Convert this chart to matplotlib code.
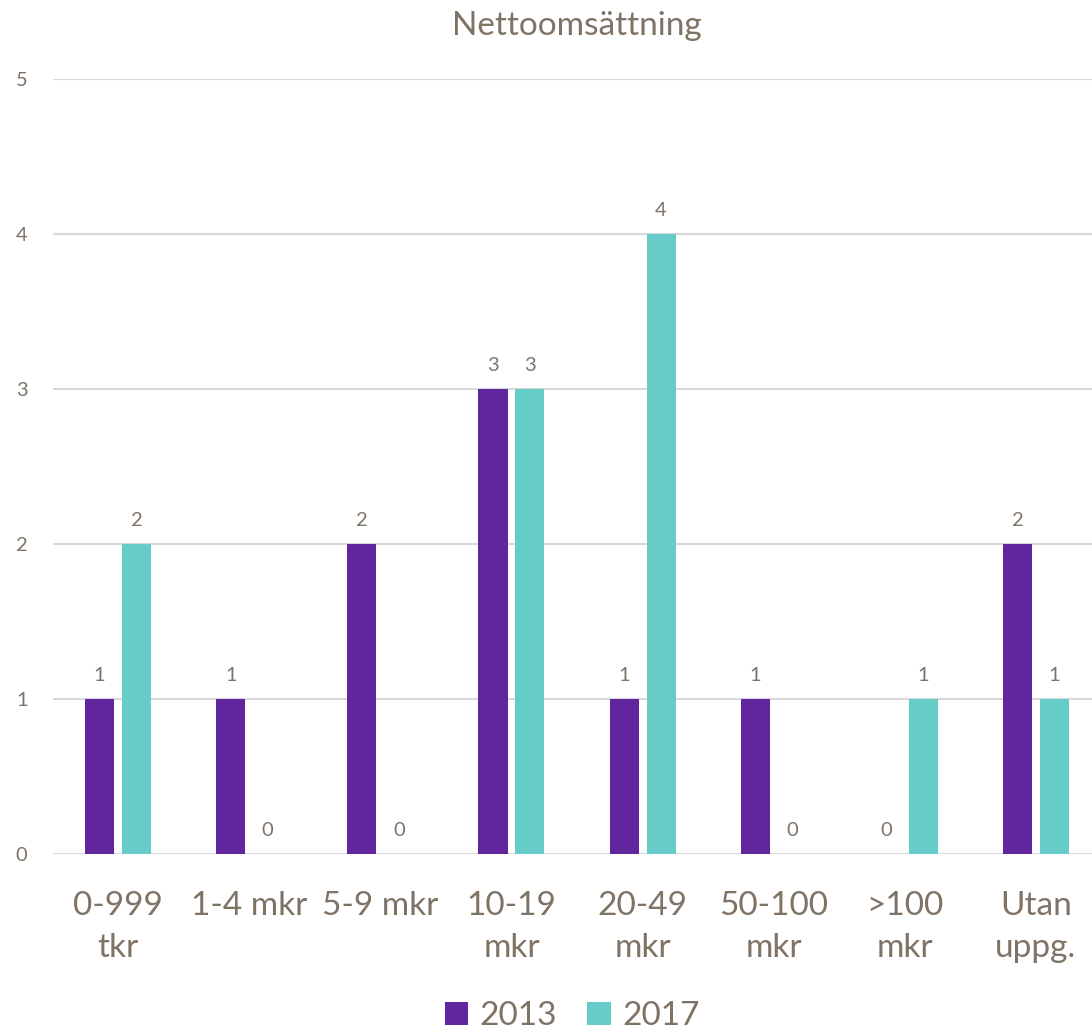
import numpy as np
import matplotlib.pyplot as plt

# Data
kategorier = ['0-999\ntkr', '1-4 mkr', '5-9 mkr', '10-19\nmkr', '20-49\nmkr', '50-100\nmkr', '>100\nmkr', 'Utan\nuppg.']
v2013 = [1, 1, 2, 3, 1, 1, 0, 2]
v2017 = [2, 0, 0, 3, 4, 0, 1, 1]
serier = ['2013', '2017']

lila = '#61269E'
turkos = '#66CCC8'
textfarg = '#7F7366'

plt.rcParams['font.family'] = ['Lato', 'DejaVu Sans']

fig = plt.figure(figsize=(10.92, 10.33), dpi=100)
# axeln går lite utanför högerkanten, som i originalet
ax = fig.add_axes([0.0481, 0.1733, 0.9606, 0.7502])

x = np.arange(len(kategorier))
bw = 0.222
off = 0.141
b1 = ax.bar(x - off, v2013, bw, color=lila, label=serier[0], zorder=3)
b2 = ax.bar(x + off, v2017, bw, color=turkos, label=serier[1], zorder=3)

for bars in (b1, b2):
    for rect in bars:
        h = rect.get_height()
        ax.annotate(f'{int(h)}', (rect.get_x() + rect.get_width() / 2, h),
                    xytext=(0, 11), textcoords='offset points',
                    ha='center', va='bottom', fontsize=14.5, color=textfarg)

ax.set_xlim(-0.5, len(kategorier) - 0.5)
ax.set_ylim(0, 5)
ax.set_yticks(range(6))
ax.yaxis.grid(True, color='#D9D9D9', linewidth=1.5, zorder=0)
ax.set_axisbelow(True)
for s in ax.spines.values():
    s.set_visible(False)
ax.tick_params(axis='both', length=0, colors=textfarg)
ax.tick_params(axis='y', labelsize=14.5, pad=18)
ax.tick_params(axis='x', labelsize=24, pad=27)
ax.set_xticks(x)
ax.set_xticklabels(kategorier, linespacing=1.5)

ax.set_title('Nettoomsättning', fontsize=24, color=textfarg, pad=32)

fig.legend(handles=[b1, b2], labels=serier, loc='center', bbox_to_anchor=(0.524, 0.016),
           ncol=2, frameon=False, fontsize=24, handlelength=0.7, handleheight=0.7,
           handletextpad=0.35, columnspacing=0.9, labelcolor=textfarg)

fig.savefig('out.png', dpi=100)
